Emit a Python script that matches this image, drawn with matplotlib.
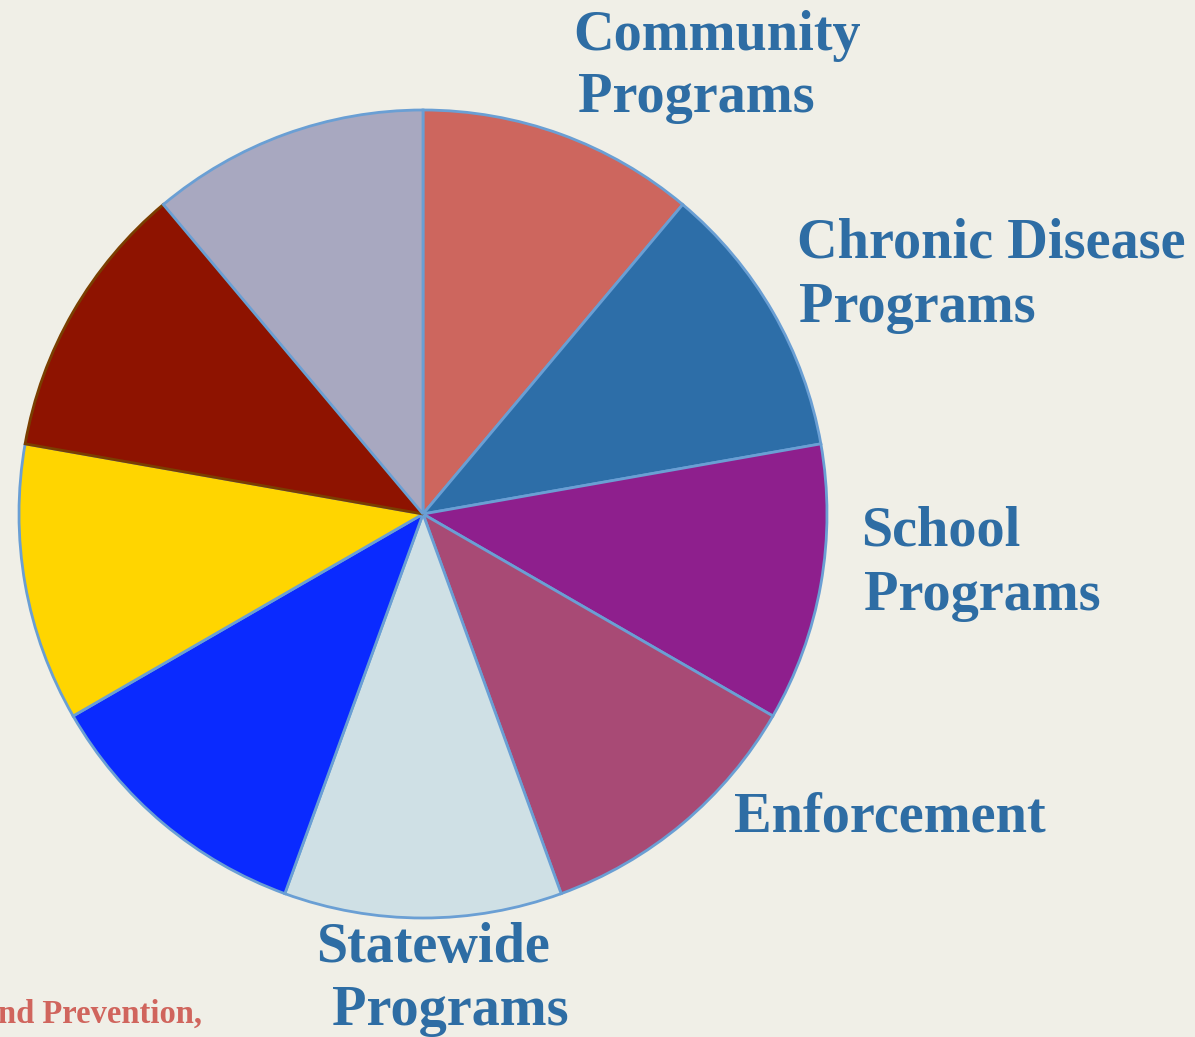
import matplotlib.pyplot as plt

W, H = 1195, 1037

# nine equal funding slices, clockwise from 12 o'clock
shares = [1, 1, 1, 1, 1, 1, 1, 1, 1]
colors = ['#CD665E', '#2D6EA8', '#8E1F8D', '#A84A75', '#CFE0E5',
          '#0A2AFF', '#FFD500', '#8E1300', '#A8A8C0']
edges = ['#6A9FD4'] * 9
edges[7] = '#7A3E00'

# label lines: (text, x, baseline y, align)
labels = [
    ('Community', 573, 50, 'left'),
    ('Programs', 578, 112, 'left'),
    ('Chronic Disease', 797, 258, 'left'),
    ('Programs', 799, 322, 'left'),
    ('School', 861, 545, 'left'),
    ('Programs', 864, 610, 'left'),
    ('Enforcement', 734, 832, 'left'),
    ('Statewide', 433, 962, 'center'),
    ('Programs', 450, 1025, 'center'),
]

bg = '#F0EFE7'
fig = plt.figure(figsize=(W / 100, H / 100), dpi=100, facecolor=bg)
ax = fig.add_axes([0, 0, 1, 1])
ax.set_facecolor(bg)

wedges, _ = ax.pie(shares, colors=colors, startangle=90, counterclock=False,
                   center=(423, H - 514), radius=404, frame=True,
                   wedgeprops=dict(linewidth=2))
for w, ec in zip(wedges, edges):
    w.set_edgecolor(ec)
ax.set_xlim(0, W)
ax.set_ylim(0, H)
ax.set_aspect('equal')
ax.axis('off')

for txt, x, y, ha in labels:
    ax.text(x, H - y, txt, ha=ha, va='baseline', color='#2E6DA4',
            fontsize=40.5, fontweight='bold', family='Liberation Serif')

ax.text(-2, H - 1023, 'nd Prevention,', ha='left', va='baseline',
        color='#D0655D', fontsize=23.5, fontweight='bold',
        family='Liberation Serif')

fig.savefig('out.png', dpi=100, facecolor=bg)
